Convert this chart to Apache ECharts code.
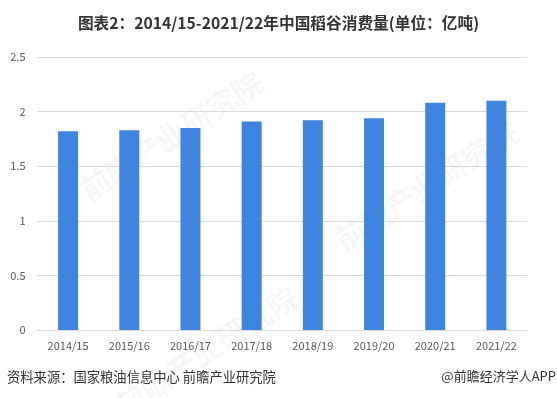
<!DOCTYPE html>
<html>
<head>
<meta charset="utf-8">
<script src="https://cdn.jsdelivr.net/npm/echarts@6/dist/echarts.min.js"></script>
<style>
html,body{margin:0;padding:0;background:#fff;}
#c{width:557px;height:398px;}
</style>
</head>
<body>
<div id="c"></div>
<script>
var categories = ['2014/15','2015/16','2016/17','2017/18','2018/19','2019/20','2020/21','2021/22'];
var consumption = [1.82, 1.83, 1.85, 1.91, 1.92, 1.94, 2.08, 2.10];
var yTicks = [0, 0.5, 1, 1.5, 2, 2.5];
var titleText = '图表2：2014/15-2021/22年中国稻谷消费量(单位：亿吨)';
var sourceText = '资料来源：国家粮油信息中心 前瞻产业研究院';
var brandText = '@前瞻经济学人APP';
var watermarkText = '前瞻产业研究院';

var chart = echarts.init(document.getElementById('c'), null, {renderer:'canvas'});
var font = '"Microsoft YaHei","Noto Sans CJK SC",sans-serif';
chart.setOption({
  animation:false,
  backgroundColor:'#fff',
  title:{
    text:titleText, left:'center', top:10,
    textStyle:{fontSize:15.7, fontWeight:'bold', color:'#333', fontFamily:font}
  },
  grid:{left:37.5, right:30, top:57, bottom:68, containLabel:false},
  xAxis:{
    type:'category', data:categories,
    axisLine:{lineStyle:{color:'#d9d9d9'}},
    axisTick:{show:false},
    axisLabel:{color:'#595959', fontSize:11, margin:10, fontFamily:font}
  },
  yAxis:{
    type:'value', min:yTicks[0], max:yTicks[yTicks.length-1], interval:0.5,
    axisLine:{show:false}, axisTick:{show:false},
    axisLabel:{color:'#595959', fontSize:11, margin:12, fontFamily:font},
    splitLine:{lineStyle:{color:'#d9d9d9'}}
  },
  series:[{
    type:'bar', data:consumption, barWidth:20,
    itemStyle:{color:'#3E85E0'}
  }],
  graphic:[
    {type:'text', left:7, top:370, style:{text:sourceText, fill:'#333', font:'13.3px '+font}},
    {type:'text', right:1, top:370, style:{text:brandText, fill:'#333', font:'13px '+font}},
    {type:'text', x:75, y:180, rotation:Math.PI/5.5, z:-1, silent:true,
      style:{text:watermarkText, fill:'rgba(0,0,0,0.035)', font:'bold 30px '+font}},
    {type:'text', x:330, y:230, rotation:Math.PI/5.5, z:-1, silent:true,
      style:{text:watermarkText, fill:'rgba(0,0,0,0.035)', font:'bold 30px '+font}},
    {type:'text', x:110, y:395, rotation:Math.PI/5.5, z:-1, silent:true,
      style:{text:watermarkText, fill:'rgba(0,0,0,0.035)', font:'bold 30px '+font}}
  ]
});
</script>
</body>
</html>
